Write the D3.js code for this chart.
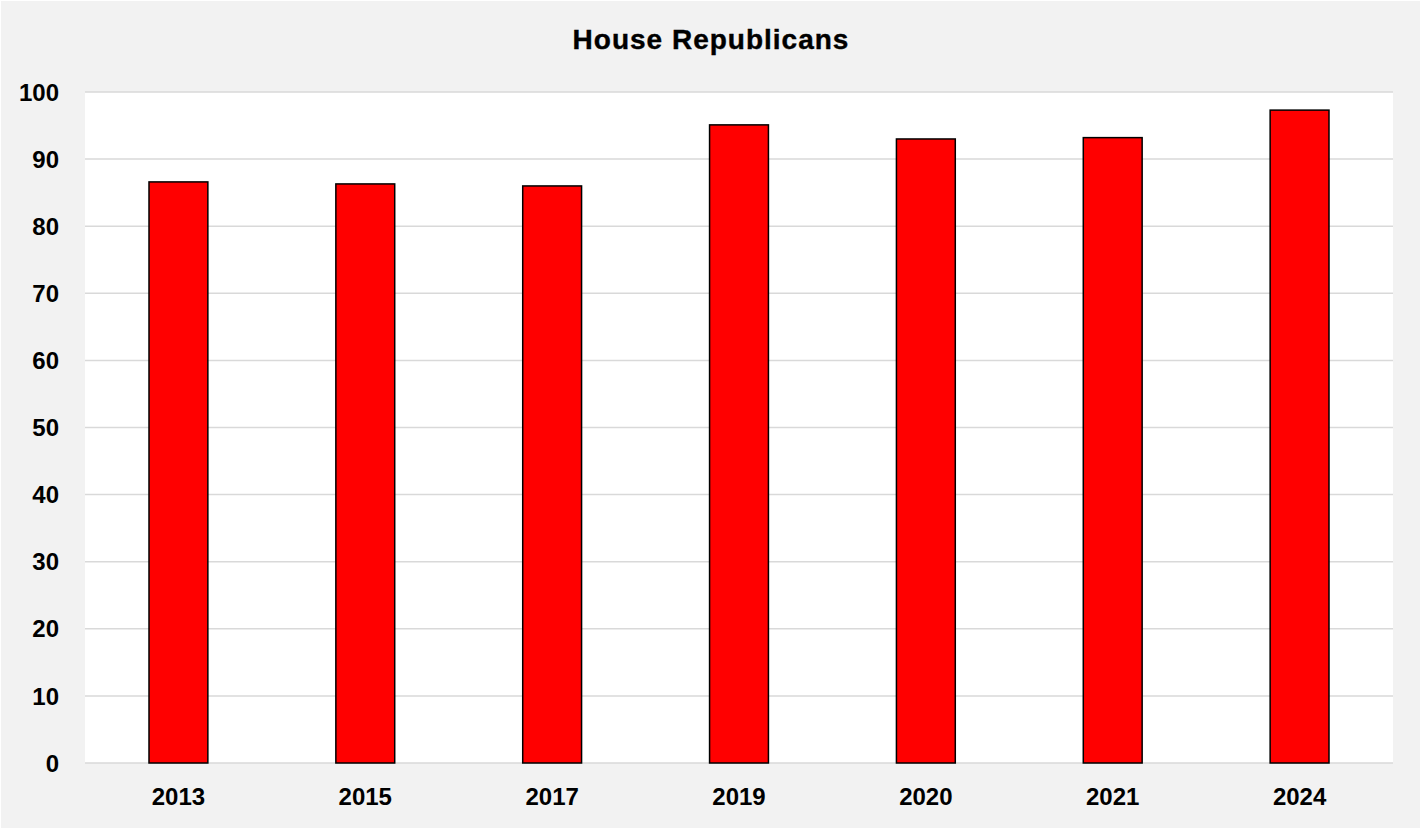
<!DOCTYPE html>
<html>
<head>
<meta charset="utf-8">
<script src="https://cdn.jsdelivr.net/npm/d3@7"></script>
<style>
  html, body { margin: 0; padding: 0; background: #ffffff; }
  text { font-family: "Liberation Sans", Arial, sans-serif; font-weight: bold; fill: #000; }
</style>
</head>
<body>
<svg id="chart" width="1425" height="832"></svg>
<script>
// data
const years = ["2013", "2015", "2017", "2019", "2020", "2021", "2024"];
const values = [86.6, 86.3, 86.0, 95.1, 93.0, 93.2, 97.3];
const yTicks = [0, 10, 20, 30, 40, 50, 60, 70, 80, 90, 100];
const title = "House Republicans";

const svg = d3.select("#chart");
const margin = { left: 85, right: 1393, top: 92, bottom: 763 };

// outer panel
svg.append("rect")
   .attr("x", 1).attr("y", 1)
   .attr("width", 1419).attr("height", 827)
   .attr("fill", "#f2f2f2");

// plot area
svg.append("rect")
   .attr("x", margin.left).attr("y", margin.top)
   .attr("width", margin.right - margin.left)
   .attr("height", margin.bottom - margin.top)
   .attr("fill", "#ffffff");

const x = d3.scaleBand()
  .domain(years)
  .range([margin.left, margin.right])
  .paddingInner(0.685)
  .paddingOuter(0.3425);

const y = d3.scaleLinear()
  .domain([0, 100])
  .range([margin.bottom, margin.top]);

// gridlines
svg.append("g")
   .selectAll("line")
   .data(yTicks)
   .enter().append("line")
   .attr("x1", margin.left)
   .attr("x2", margin.right)
   .attr("y1", d => y(d))
   .attr("y2", d => y(d))
   .attr("stroke", "#d9d9d9")
   .attr("stroke-width", 1.5);

// y tick labels
svg.append("g")
   .selectAll("text")
   .data(yTicks)
   .enter().append("text")
   .attr("x", 59)
   .attr("y", d => y(d))
   .attr("dy", "0.36em")
   .attr("text-anchor", "end")
   .style("font-size", "24px")
   .text(d => d);

// bars
svg.append("g")
   .selectAll("rect")
   .data(values)
   .enter().append("rect")
   .attr("x", (d, i) => x(years[i]))
   .attr("y", d => y(d))
   .attr("width", x.bandwidth())
   .attr("height", d => y(0) - y(d))
   .attr("fill", "#ff0000")
   .attr("stroke", "#000")
   .attr("stroke-width", 1.5);

// x labels
svg.append("g")
   .selectAll("text")
   .data(years)
   .enter().append("text")
   .attr("x", d => x(d) + x.bandwidth() / 2)
   .attr("y", 805)
   .attr("text-anchor", "middle")
   .style("font-size", "24px")
   .text(d => d);

// title
svg.append("text")
   .attr("x", 711)
   .attr("y", 49)
   .attr("text-anchor", "middle")
   .style("font-size", "28px")
   .style("letter-spacing", "1px")
   .style("stroke", "#000")
   .style("stroke-width", 0.4)
   .text(title);
</script>
</body>
</html>
